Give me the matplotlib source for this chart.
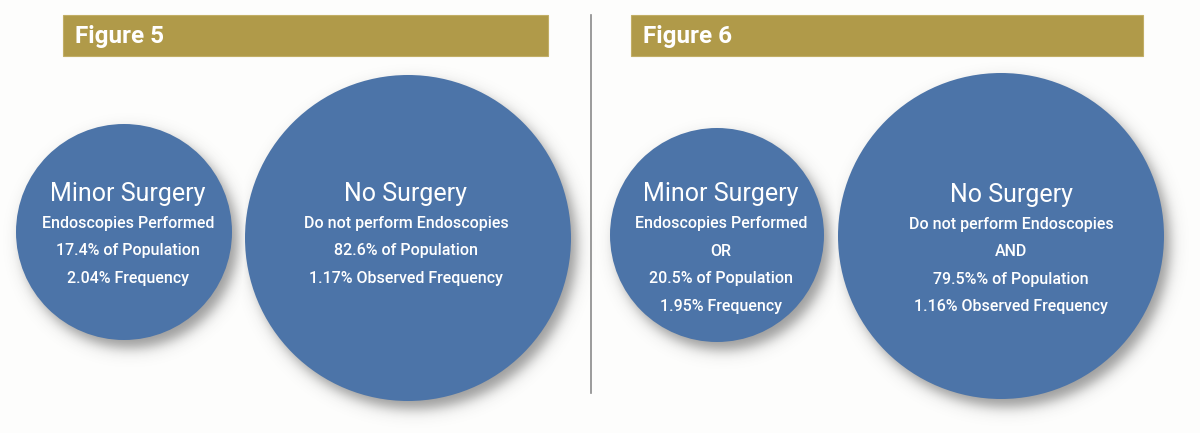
import numpy as np
import matplotlib.pyplot as plt
from matplotlib.patches import Circle, Rectangle

# --- data ---
panel_titles = ['Figure 5', 'Figure 6']
group_names = ['Minor Surgery', 'No Surgery']
group_desc = ['Endoscopies Performed', 'Do not perform Endoscopies']
connectors_fig6 = ['OR', 'AND']
population_fig5 = ['17.4%', '82.6%']
population_fig6 = ['20.5%', '79.5%%']
frequency_fig5 = ['2.04%', '1.17%']
frequency_fig6 = ['1.95%', '1.16%']
freq_suffix = ['Frequency', 'Observed Frequency']

# --- layout (pixels, y down) ---
W, H = 1200, 433
BLUE = '#4C74A8'
GOLD = '#B09A49'
FONT = ['Roboto', 'DejaVu Sans']

header_x = [(63, 548), (631, 1143)]
header_y = (15, 56)
circle_centers = [[(124, 232), (408, 238)], [(717, 235), (1001, 236)]]
circle_radii = [[108, 163], [107, 163]]
text_x = [[128, 406], [721, 1011]]
title_base = [[201, 201], [201, 202]]
divider_x = 591

fig = plt.figure(figsize=(12, 4.33), dpi=100)
ax = fig.add_axes([0, 0, 1, 1])
ax.set_xlim(0, W)
ax.set_ylim(H, 0)
ax.set_aspect('equal')
ax.axis('off')
fig.patch.set_facecolor('#FDFDFC')

# soft drop shadow behind all circles
yy, xx = np.mgrid[0:H, 0:W] + 0.5
shadow = np.zeros((H, W))
for centers, radii in zip(circle_centers, circle_radii):
    for (cx, cy), r in zip(centers, radii):
        d = np.hypot(xx - cx - 6, yy - cy - 8)
        shadow = np.maximum(shadow, 0.5 / (1 + np.exp((d - r) / 4.0)))
rgba = np.zeros((H, W, 4))
rgba[..., :3] = 0.22
rgba[..., 3] = shadow
ax.imshow(rgba, extent=(0, W, H, 0), zorder=1, interpolation='bilinear')

# headers
for (x0, x1), title in zip(header_x, panel_titles):
    ax.add_patch(Rectangle((x0, header_y[0]), x1 - x0, header_y[1] - header_y[0],
                           facecolor=GOLD, edgecolor='#C2AE66', lw=0.8, zorder=2))
    ax.text(x0 + 12, 43, title, color='white', fontsize=17.5, fontweight='bold',
            family=FONT, fontstretch='condensed', ha='left', va='baseline', zorder=3)

ax.plot([divider_x, divider_x], [15, 393], color='#8A8A8A', lw=1.2, zorder=2)

# circles
for centers, radii in zip(circle_centers, circle_radii):
    for (cx, cy), r in zip(centers, radii):
        ax.add_patch(Circle((cx, cy), r, facecolor=BLUE, edgecolor='none', zorder=2))

# text lines per circle
lines = [[], []]
for i in range(2):
    lines[0].append([group_names[i], group_desc[i],
                     f'{population_fig5[i]} of Population',
                     f'{frequency_fig5[i]} {freq_suffix[i]}'])
    lines[1].append([group_names[i], group_desc[i], connectors_fig6[i],
                     f'{population_fig6[i]} of Population',
                     f'{frequency_fig6[i]} {freq_suffix[i]}'])

for p in range(2):
    for i in range(2):
        x = text_x[p][i]
        y0 = title_base[p][i]
        txt = lines[p][i]
        ax.text(x, y0, txt[0], color='white', fontsize=18, family=FONT,
                fontstretch='condensed', ha='center', va='baseline', zorder=3)
        for j, s in enumerate(txt[1:]):
            ax.text(x, y0 + 27 + j * 27.5, s, color='white', fontsize=11.5,
                    fontweight='medium', family=FONT, fontstretch='condensed',
                    ha='center', va='baseline', zorder=3)

fig.savefig('out.png', dpi=100, facecolor=fig.get_facecolor())
